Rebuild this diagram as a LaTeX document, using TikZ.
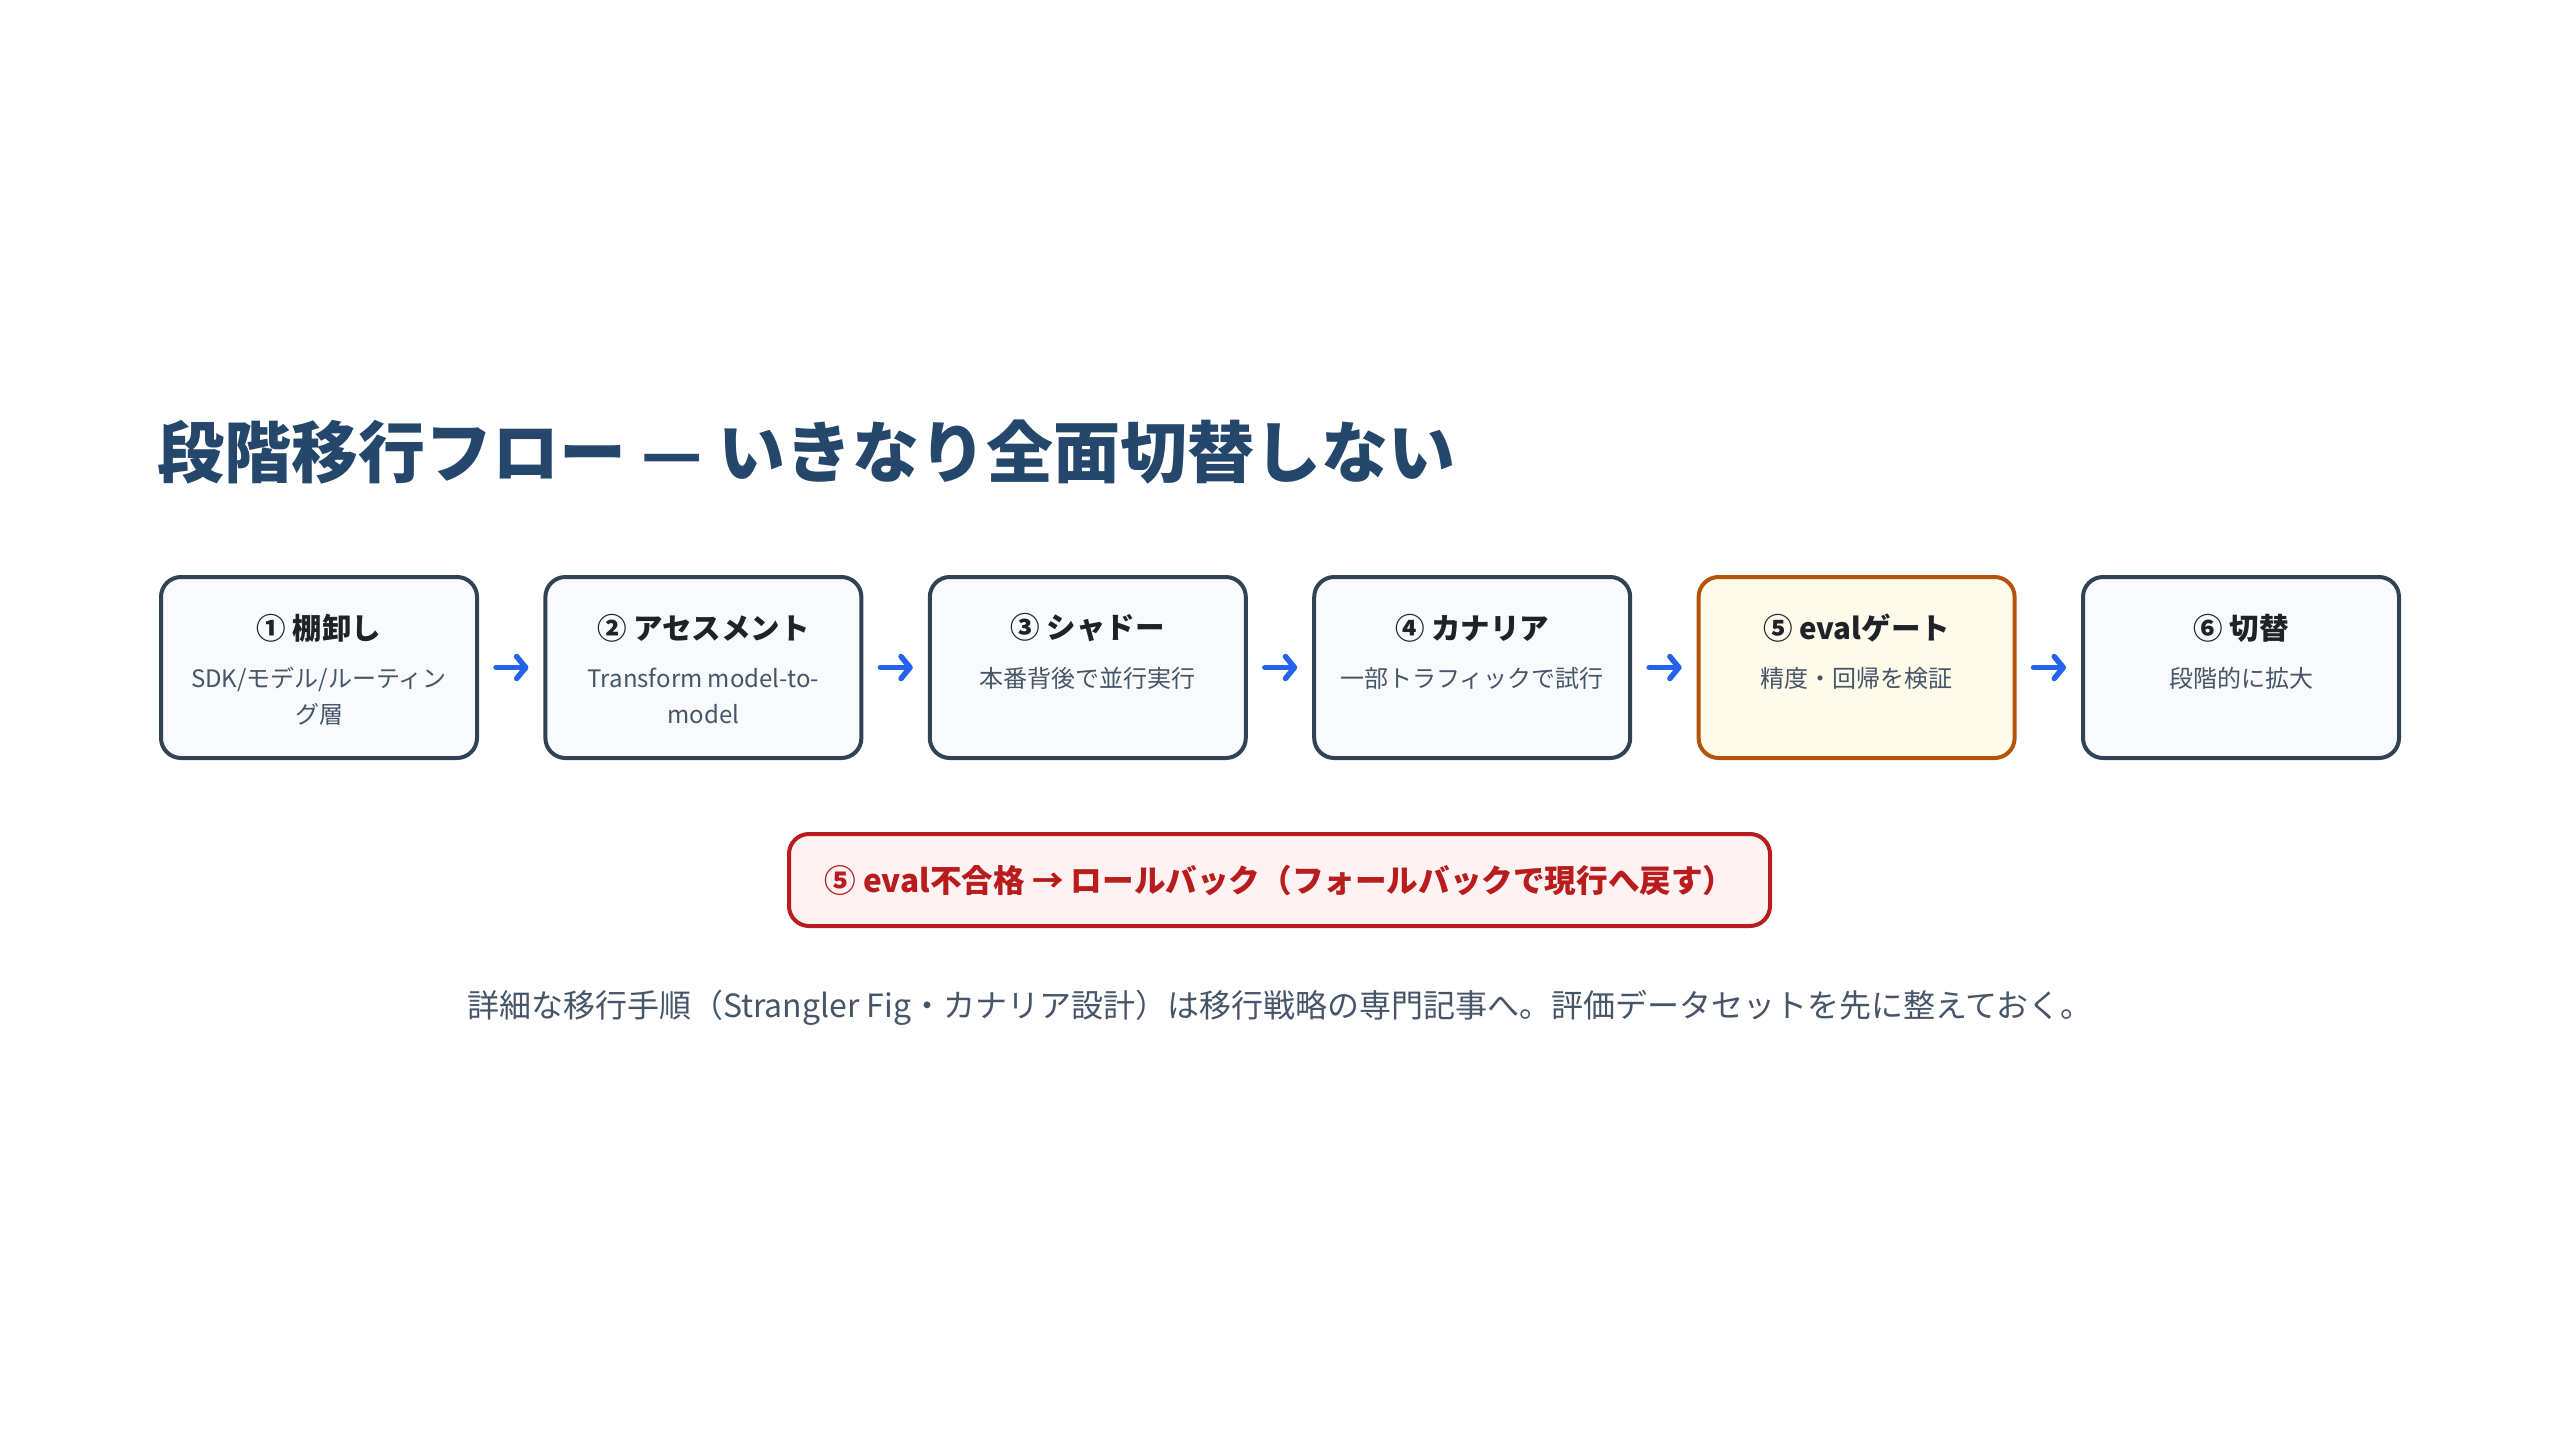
\documentclass[tikz,border=0pt]{standalone}
\usepackage{fontspec}
\setmainfont{Noto Sans CJK JP}
\usetikzlibrary{arrows.meta}
\definecolor{titlec}{HTML}{24476B}
\definecolor{boxline}{HTML}{334155}
\definecolor{boxfill}{HTML}{F8FAFC}
\definecolor{gateline}{HTML}{B45309}
\definecolor{gatefill}{HTML}{FFFBEB}
\definecolor{titletext}{HTML}{1F2328}
\definecolor{subtext}{HTML}{475569}
\definecolor{arrowc}{HTML}{2563EB}
\definecolor{redline}{HTML}{B91C1C}
\definecolor{redfill}{HTML}{FEF2F2}
\begin{document}
\begin{tikzpicture}[x=1pt,y=-1pt,
  stepbox/.style={draw=boxline, fill=boxfill, line width=4pt, rounded corners=20pt,
    minimum width=316pt, minimum height=181pt, inner sep=0pt},
  gatebox/.style={stepbox, draw=gateline, fill=gatefill},
  steptitle/.style={font=\fontsize{29.5}{35}\selectfont\bfseries, text=titletext, inner sep=0pt},
  stepsub/.style={font=\fontsize{24}{36}\selectfont, text=subtext, align=center, inner sep=0pt},
  flow/.style={draw=arrowc, line width=5.5pt, line cap=round,
    -{Straight Barb[length=9pt,width=22pt,round]}, shorten <=17pt, shorten >=15pt},
  rollbox/.style={draw=redline, fill=redfill, line width=4pt, rounded corners=20pt,
    minimum width=981pt, minimum height=92pt, inner sep=0pt, text=redline,
    font=\fontsize{31.6}{38}\selectfont\bfseries},
  maintitle/.style={font=\fontsize{67}{80}\selectfont\bfseries, text=titlec, inner sep=0pt, anchor=west},
  footnote/.style={font=\fontsize{32}{38}\selectfont, text=subtext, inner sep=0pt}
]
\useasboundingbox (0,0) rectangle (2560,1440);
\fill[white] (0,0) rectangle (2560,1440);

\node[maintitle] (title) at (157,452) {段階移行フロー — いきなり全面切替しない};

\node[stepbox] (b1) at (319,667.5) {};
\node[stepbox] (b2) at (703.4,667.5) {};
\node[stepbox] (b3) at (1087.8,667.5) {};
\node[stepbox] (b4) at (1472.2,667.5) {};
\node[gatebox] (b5) at (1856.6,667.5) {};
\node[stepbox] (b6) at (2241,667.5) {};

\node[steptitle] (t1) at (319,628) {① 棚卸し};
\node[steptitle] (t2) at (703.4,628) {② アセスメント};
\node[steptitle] (t3) at (1087.8,628) {③ シャドー};
\node[steptitle] (t4) at (1472.2,628) {④ カナリア};
\node[steptitle] (t5) at (1856.6,628) {⑤ evalゲート};
\node[steptitle] (t6) at (2241,628) {⑥ 切替};

\node[stepsub] (s1) at (319,696) {SDK/モデル/ルーティン\\グ層};
\node[stepsub] (s2) at (703.4,696) {Transform model-to-\\model};
\node[stepsub] (s3) at (1087.8,678) {本番背後で並行実行};
\node[stepsub] (s4) at (1472.2,678) {一部トラフィックで試行};
\node[stepsub] (s5) at (1856.6,678) {精度・回帰を検証};
\node[stepsub] (s6) at (2241,678) {段階的に拡大};

\draw[flow] (b1) -- (b2);
\draw[flow] (b2) -- (b3);
\draw[flow] (b3) -- (b4);
\draw[flow] (b4) -- (b5);
\draw[flow] (b5) -- (b6);

\node[rollbox] (rb) at (1279.5,880) {⑤ eval不合格 → ロールバック（フォールバックで現行へ戻す）};

\node[footnote] (fn) at (1280,1008) {詳細な移行手順（Strangler Fig・カナリア設計）は移行戦略の専門記事へ。評価データセットを先に整えておく。};
\end{tikzpicture}
\end{document}
